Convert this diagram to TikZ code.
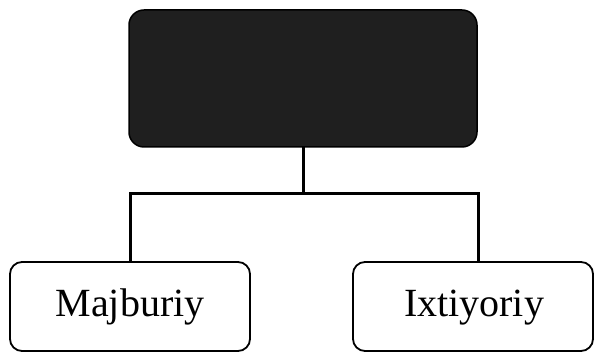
\documentclass[tikz,border=0pt]{standalone}
\usepackage{fontspec}
\setmainfont{Liberation Serif}
\begin{document}
\begin{tikzpicture}[x=1pt,y=-1pt,
  topbox/.style={draw=black,line width=1.5pt,fill=black!88,rounded corners=15pt},
  leafbox/.style={draw=black,line width=1.8pt,rounded corners=12pt,fill=white},
  conn/.style={draw=black,line width=3pt},
  lbl/.style={font=\fontsize{40}{42}\selectfont,anchor=base}]
\useasboundingbox (0,0) rectangle (595,352);
\draw[topbox] (129,10) rectangle (477,147);
\coordinate (top) at (303,147);
\draw[leafbox] (10,262) rectangle (250,351);
\draw[leafbox] (353,262) rectangle (593,351);
\coordinate (lt) at (130,262);
\coordinate (rt) at (478,262);
\coordinate (j) at (303,194);
\coordinate (jl) at (130,194);
\coordinate (jr) at (478,194);
\draw[conn] (top) -- (j);
\draw[conn,line cap=rect] (jl) -- (jr);
\draw[conn] (jl) -- (lt);
\draw[conn] (jr) -- (rt);
\node[lbl] (maj) at (130,317) {Majburiy};
\node[lbl] (ixt) at (474,317) {Ixtiyoriy};
\end{tikzpicture}
\end{document}
